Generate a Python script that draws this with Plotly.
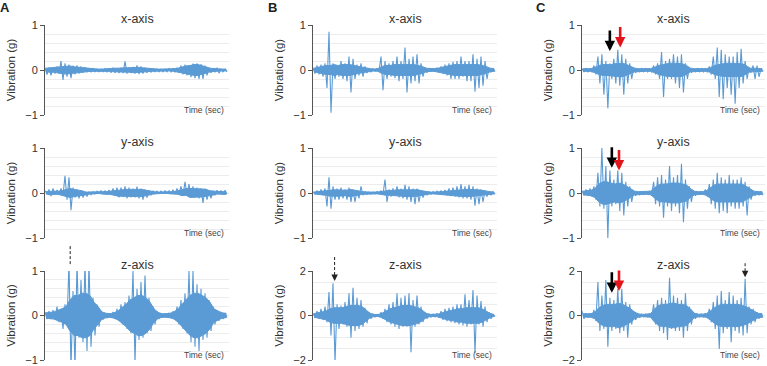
import plotly.graph_objects as go

# ---------------- data (g): per-bin upper / lower extremes and dense-core half-width ----------------
A_x_upper = [.05,.06,.05,.08,.2,.15,.12,.1,.1,.08,.06,.04,.03,.02,.02,.03,.04,.05,.04,.05,.19,.06,.07,.1,.08,.05,.03,.02,.02,.02,.02,.03,.04,.05,.1,.12,.1,.14,.15,.13,.1,.05,.03,.05,.02,.02]
A_x_lower = [-.1,-.12,-.08,-.08,-.22,-.15,-.18,-.1,-.08,-.06,-.05,-.04,-.04,-.04,-.04,-.05,-.06,-.06,-.07,-.07,-.08,-.07,-.08,-.09,-.08,-.06,-.05,-.04,-.04,-.04,-.04,-.04,-.05,-.06,-.1,-.12,-.16,-.18,-.2,-.2,-.12,-.06,-.05,-.07,-.04,-.04]
A_x_core = [.04,.05,.05,.06,.08,.09,.09,.07,.06,.05,.04,.03,.02,.02,.02,.03,.03,.04,.04,.05,.05,.05,.06,.06,.05,.04,.03,.02,.02,.02,.02,.02,.03,.04,.07,.09,.1,.12,.12,.1,.07,.04,.03,.03,.02,.02]
A_y_upper = [.05,.08,.1,.07,.1,.38,.35,.12,.08,.05,.02,.02,.03,.04,.05,.05,.07,.1,.12,.12,.15,.12,.1,.14,.1,.08,.06,.05,.04,.04,.05,.05,.07,.1,.15,.25,.2,.15,.12,.1,.1,.05,.05,.06,.05,.06]
A_y_lower = [-.02,-.07,-.03,-.03,-.05,-.15,-.38,-.1,-.12,-.1,-.08,-.04,-.02,-.01,-.02,-.03,-.03,-.05,-.1,-.08,-.12,-.1,-.1,-.12,-.15,-.1,-.05,-.02,-.01,-.01,-.01,-.02,-.02,-.03,-.06,-.05,-.1,-.1,-.12,-.22,-.15,-.12,-.05,-.02,-.03,-.03]
A_y_core = [.03,.04,.04,.04,.05,.08,.1,.08,.07,.05,.04,.02,.02,.02,.03,.03,.04,.05,.07,.07,.08,.08,.08,.08,.08,.06,.04,.03,.02,.02,.02,.03,.03,.05,.07,.1,.1,.1,.09,.09,.08,.06,.04,.03,.03,.03]
A_z_upper = [.08,.1,.12,.2,.15,.25,1.2,.55,1.2,.8,1.2,1.2,.4,.25,.1,.06,.05,.08,.15,.25,.3,.45,1.0,.6,.75,.9,.4,.2,.1,.05,.05,.06,.1,.2,.35,.5,1.0,1.0,.7,.6,.5,.35,.2,.12,.08,.05]
A_z_lower = [-.08,-.08,-.1,-.15,-.3,-.2,-1.2,-1.2,-.5,-.6,-.8,-.7,-.45,-.25,-.1,-.06,-.05,-.07,-.12,-.2,-.3,-.4,-1.05,-.55,-.5,-.4,-.35,-.2,-.08,-.05,-.05,-.06,-.1,-.2,-.3,-.4,-.6,-.7,-.8,-.55,-.5,-.35,-.2,-.12,-.08,-.05]
A_z_core = [.06,.07,.08,.12,.15,.2,.35,.45,.45,.5,.5,.45,.3,.2,.08,.05,.04,.06,.1,.18,.25,.35,.4,.45,.45,.4,.3,.15,.07,.04,.04,.05,.08,.15,.25,.35,.45,.5,.5,.45,.4,.3,.15,.1,.06,.05]

B_x_upper = [.05,.1,.12,.15,.85,.15,.1,.2,.15,.3,.25,.12,.15,.08,.04,.03,.03,.3,.2,.15,.2,.3,.2,.5,.25,.3,.35,.15,.06,.04,.04,.05,.08,.12,.15,.18,.2,.3,.2,.2,.35,.25,.3,.2,.05,.03]
B_x_lower = [-.08,-.1,-.15,-.4,-.95,-.2,-.15,-.2,-.25,-.5,-.2,-.12,-.15,-.07,-.04,-.03,-.03,-.45,-.2,-.15,-.18,-.25,-.2,-.5,-.3,-.25,-.3,-.15,-.06,-.04,-.04,-.04,-.08,-.12,-.2,-.2,-.2,-.15,-.25,-.25,-.48,-.4,-.35,-.2,-.05,-.04]
B_x_core = [.04,.06,.08,.1,.1,.12,.1,.12,.12,.12,.1,.08,.06,.04,.03,.02,.03,.08,.1,.1,.12,.12,.12,.12,.12,.12,.1,.08,.04,.03,.03,.04,.06,.08,.1,.12,.12,.12,.12,.12,.12,.12,.1,.08,.04,.03]
B_y_upper = [.03,.05,.08,.1,.35,.15,.1,.12,.08,.12,.08,.05,.15,.03,.02,.02,.03,.05,.3,.08,.1,.15,.1,.18,.15,.1,.1,.05,.03,.03,.03,.04,.05,.07,.1,.12,.15,.2,.15,.18,.15,.1,.08,.05,.03,.03]
B_y_lower = [-.02,-.03,-.05,-.3,-.35,-.15,-.15,-.12,-.15,-.2,-.2,-.12,-.05,-.03,-.02,-.02,-.02,-.03,-.2,-.08,-.06,-.1,-.12,-.15,-.2,-.25,-.2,-.1,-.05,-.03,-.02,-.02,-.03,-.05,-.07,-.08,-.1,-.12,-.12,-.15,-.28,-.25,-.2,-.08,-.05,-.03]
B_y_core = [.02,.03,.04,.05,.07,.07,.07,.07,.06,.08,.07,.05,.03,.02,.02,.02,.02,.03,.05,.05,.06,.07,.07,.08,.08,.08,.07,.05,.03,.02,.02,.02,.03,.04,.05,.06,.07,.08,.08,.08,.08,.07,.06,.04,.03,.02]
B_z_upper = [.1,.2,.3,.4,1.05,1.45,.5,.45,.6,1.0,1.25,.8,.7,.35,.15,.07,.05,.15,.3,.5,.6,1.0,.8,.9,1.0,.7,.9,.4,.15,.08,.06,.1,.2,.3,.35,.4,.5,.5,.95,.7,1.15,.9,.65,.4,.15,.05]
B_z_lower = [-.08,-.15,-.2,-.3,-.9,-2.1,-.6,-.4,-.5,-1.0,-.7,-.6,-.5,-.35,-.15,-.07,-.05,-.15,-.3,-.4,-.5,-.6,-.5,-.5,-1.65,-.5,-.4,-.3,-.15,-.08,-.06,-.1,-.2,-.25,-.3,-.35,-.4,-.45,-.5,-.4,-1.7,-.4,-.5,-.3,-.15,-.05]
B_z_core = [.08,.12,.15,.2,.3,.35,.35,.35,.4,.45,.45,.45,.4,.25,.1,.05,.04,.1,.2,.3,.35,.4,.45,.45,.45,.4,.35,.25,.1,.05,.04,.06,.12,.18,.22,.25,.3,.3,.35,.35,.35,.35,.3,.2,.1,.04]

C_x_upper = [.03,.03,.04,.1,.3,.35,.2,.15,.25,.45,.35,.25,.15,.05,.03,.03,.03,.04,.1,.15,.4,.2,.25,.35,.3,.35,.15,.06,.03,.03,.03,.04,.08,.3,.5,.45,.35,.3,.3,.4,.47,.2,.05,.1,.1,.03]
C_x_lower = [-.04,-.04,-.05,-.1,-.3,-.55,-.85,-.2,-.3,-.35,-.55,-.3,-.2,-.06,-.04,-.04,-.04,-.05,-.1,-.2,-.6,-.2,-.2,-.3,-.4,-.5,-.2,-.06,-.04,-.04,-.04,-.05,-.1,-.2,-.6,-.65,-.4,-.55,-.75,-.4,-.3,-.2,-.06,-.2,-.15,-.04]
C_x_core = [.03,.03,.03,.06,.1,.12,.12,.12,.14,.15,.15,.12,.08,.04,.03,.03,.03,.03,.06,.1,.12,.14,.15,.15,.15,.14,.1,.04,.03,.03,.03,.03,.05,.1,.12,.14,.15,.15,.15,.15,.14,.1,.04,.04,.04,.03]
C_y_upper = [.05,.08,.1,.15,.45,1.0,.6,.5,.3,.5,.45,.25,.15,.05,.03,.03,.03,.05,.25,.35,.4,.3,.6,.35,.4,.65,.3,.15,.05,.04,.04,.08,.2,.3,.45,.35,.3,.4,.3,.3,.35,.25,.15,.05,.04,.04]
C_y_lower = [-.05,-.05,-.08,-.15,-.3,-.35,-1.0,-.3,-.25,-.4,-.5,-.3,-.2,-.06,-.04,-.03,-.03,-.05,-.25,-.3,-.55,-.3,-.4,-.3,-.45,-.65,-.35,-.2,-.06,-.04,-.04,-.08,-.25,-.35,-.45,-.4,-.45,-.3,-.35,-.35,-.3,-.5,-.15,-.06,-.05,-.05]
C_y_core = [.04,.05,.06,.1,.2,.25,.25,.22,.2,.22,.2,.15,.1,.04,.03,.03,.03,.04,.12,.18,.2,.2,.22,.22,.22,.2,.18,.1,.04,.03,.03,.05,.12,.18,.2,.2,.2,.2,.2,.2,.2,.15,.1,.04,.03,.03]
C_z_upper = [.2,.1,.1,.25,1.5,.9,1.6,.8,.7,1.2,1.2,.6,.5,.2,.1,.06,.06,.1,.5,.7,.8,.7,1.7,.9,.8,.7,1.0,.4,.15,.08,.08,.1,.3,.6,.9,1.1,.7,1.05,.9,.7,.8,1.65,.4,.3,.15,.1]
C_z_lower = [-.15,-.1,-.1,-.25,-.7,-.6,-1.4,-.7,-.6,-.8,-.7,-1.0,-.4,-.2,-.1,-.06,-.06,-.1,-.4,-.7,-.8,-1.1,-.6,-.7,-.7,-1.0,-.7,-.4,-.15,-.08,-.08,-.1,-.3,-.6,-1.5,-.8,-.6,-1.2,-.7,-.8,-.9,-.8,-.4,-.3,-.15,-.1]
C_z_core = [.08,.07,.08,.15,.35,.45,.5,.5,.5,.55,.5,.4,.3,.15,.07,.05,.05,.08,.3,.45,.5,.5,.55,.55,.5,.5,.45,.3,.1,.06,.06,.08,.2,.35,.45,.5,.5,.5,.5,.5,.45,.4,.3,.2,.1,.08]

panel_letters = ["A", "B", "C"]
axis_names = ["x-axis", "y-axis", "z-axis"]
y_limits = {"A": [1, 1, 1], "B": [1, 1, 2], "C": [1, 1, 2]}
signals = {
    "A": [(A_x_upper, A_x_lower, A_x_core), (A_y_upper, A_y_lower, A_y_core), (A_z_upper, A_z_lower, A_z_core)],
    "B": [(B_x_upper, B_x_lower, B_x_core), (B_y_upper, B_y_lower, B_y_core), (B_z_upper, B_z_lower, B_z_core)],
    "C": [(C_x_upper, C_x_lower, C_x_core), (C_y_upper, C_y_lower, C_y_core), (C_z_upper, C_z_lower, C_z_core)],
}

# ---------------- layout geometry (pixels) ----------------
W, H = 767, 366
col_px = {"A": (45, 229), "B": (313, 497), "C": (582, 765)}
row_px = [(25, 115), (148, 238), (271, 360)]
NB = 46
LINE = "#5b9bd5"
FONT = "Liberation Sans, Arial, sans-serif"
TXT = "#333333"

fig = go.Figure()
layout = dict(width=W, height=H, margin=dict(l=0, r=0, t=0, b=0, pad=0, autoexpand=False),
              paper_bgcolor="white", plot_bgcolor="white", showlegend=False,
              font=dict(family=FONT, color=TXT))
annotations, shapes = [], []
axis_index = {}

n = 0
for letter in panel_letters:
    for r in range(3):
        n += 1
        axis_index[(letter, r)] = n
        up, lo, core = signals[letter][r]
        sfx = "" if n == 1 else str(n)
        xa, ya = "x" + sfx, "y" + sfx
        # dense core band
        band_x = [i + 0.25 for i in range(len(core))]
        band_top = [min(c, u) for c, u in zip(core, up)]
        band_bot = [max(-c, l) for c, l in zip(core, lo)]
        fig.add_trace(go.Scatter(x=band_x + band_x[::-1], y=band_top + band_bot[::-1],
                                 mode="lines", fill="toself", fillcolor=LINE,
                                 line=dict(color=LINE, width=1), xaxis=xa, yaxis=ya, hoverinfo="skip"))
        # oscillating trace through the extremes
        xs, ys = [], []
        for i in range(len(up)):
            xs += [i, i + 0.5]
            ys += [up[i], lo[i]]
        fig.add_trace(go.Scatter(x=xs, y=ys, mode="lines", xaxis=xa, yaxis=ya,
                                 line=dict(color=LINE, width=1.1), hoverinfo="skip"))
        x0, x1 = col_px[letter]
        yt, yb = row_px[r]
        lim = y_limits[letter][r]
        layout["xaxis" + sfx] = dict(domain=[x0 / W, x1 / W], range=[0, NB], visible=False,
                                     anchor=ya, automargin=False)
        layout["yaxis" + sfx] = dict(
            domain=[1 - yb / H, 1 - yt / H], range=[-lim, lim], anchor=xa, automargin=False,
            tickmode="linear", tick0=0, dtick=lim,
            ticks="outside", ticklen=4, tickcolor="#555555", tickwidth=1,
            showline=True, linecolor="#555555", linewidth=1,
            showgrid=True, gridcolor="#ececec", gridwidth=1, zeroline=False,
            minor=dict(tickmode="linear", tick0=0, dtick=0.2 if lim == 1 else 0.5,
                       showgrid=True, gridcolor="#ececec", ticks=""),
            tickfont=dict(size=11, color=TXT, family=FONT),
            title=dict(text="Vibration (g)", font=dict(size=11.5, color=TXT, family=FONT), standoff=7),
        )
        dref = xa + " domain"
        yref = ya + " domain"
        annotations.append(dict(text=axis_names[r], xref=dref, yref=yref, x=0.5, y=1,
                                xanchor="center", yanchor="middle", yshift=6, showarrow=False,
                                font=dict(size=12.5, color=TXT, family=FONT)))
        annotations.append(dict(text="Time (sec)", xref=dref, yref=yref, x=1, y=0,
                                xanchor="right", yanchor="middle", yshift=5, xshift=-3, showarrow=False,
                                font=dict(size=8.5, color="#444444", family=FONT)))

letter_pos = {"A": 5, "B": 272, "C": 541}
for letter in panel_letters:
    annotations.append(dict(text="<b>%s</b>" % letter, xref="paper", yref="paper",
                            x=letter_pos[letter] / W, y=1 - 7 / H, xanchor="center", yanchor="middle",
                            showarrow=False, font=dict(size=13, color="#222222", family=FONT)))


def ax_ref(letter, r):
    k = axis_index[(letter, r)]
    s = "" if k == 1 else str(k)
    return "x" + s, "y" + s


def to_pixel(letter, r, xv, yv):
    x0, x1 = col_px[letter]
    yt, yb = row_px[r]
    lim = y_limits[letter][r]
    return x0 + xv / NB * (x1 - x0), yb - (yv + lim) / (2 * lim) * (yb - yt)


# solid arrows (black / red) in panel C
solid_arrows = [("C", 0, 7.0, 0.42, "black"), ("C", 0, 9.6, 0.5, "#e3141b"),
                ("C", 1, 7.5, 0.56, "black"), ("C", 1, 9.3, 0.5, "#e3141b"),
                ("C", 2, 7.5, 1.02, "black"), ("C", 2, 9.3, 1.1, "#e3141b")]
for letter, r, xv, yv, colr in solid_arrows:
    xr, yr = ax_ref(letter, r)
    annotations.append(dict(text="", xref=xr, yref=yr, x=xv, y=yv, ax=0, ay=-22,
                            showarrow=True, arrowhead=2, arrowsize=0.8, arrowwidth=2.6,
                            arrowcolor=colr))

# dashed arrows pointing at spikes
dashed_arrows = [("A", 2, 6.3, 1.02), ("B", 2, 5.4, 1.55), ("C", 2, 41.0, 1.72)]
for letter, r, xv, yv in dashed_arrows:
    xr, yr = ax_ref(letter, r)
    px, py = to_pixel(letter, r, xv, yv)
    top = 24 if letter != "C" else 14
    shapes.append(dict(type="line", xref="paper", yref="paper",
                       x0=px / W, x1=px / W, y0=1 - (py - top) / H, y1=1 - (py - 6) / H,
                       line=dict(color="#222222", width=1, dash="3px,2px")))
    annotations.append(dict(text="", xref=xr, yref=yr, x=xv, y=yv, ax=0, ay=-7,
                            showarrow=True, arrowhead=2, arrowsize=1.3, arrowwidth=1,
                            arrowcolor="#222222"))

layout["annotations"] = annotations
layout["shapes"] = shapes
fig.update_layout(**layout)
fig.write_html("out.html", config={"displayModeBar": False},
               post_script="document.body.style.margin='0';document.body.style.overflow='hidden';")
